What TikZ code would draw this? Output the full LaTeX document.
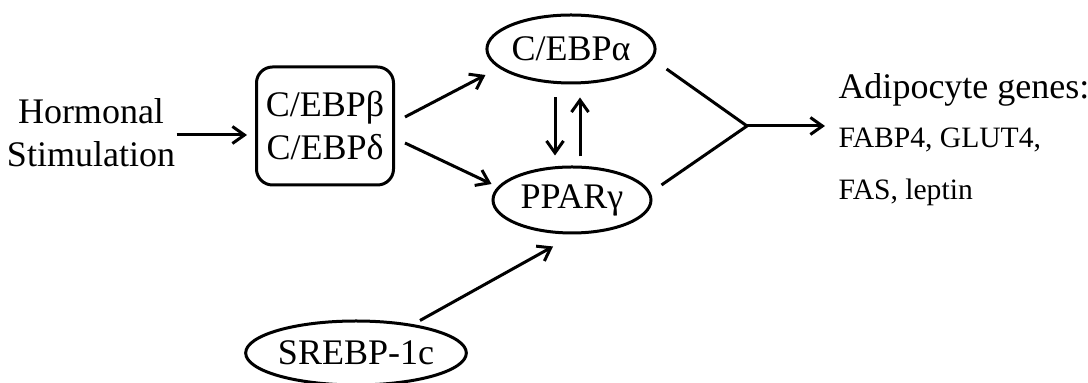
\documentclass[tikz,border=0pt]{standalone}
\usepackage{fontspec}
\setmainfont{Liberation Serif}
\usetikzlibrary{shapes.geometric,arrows.meta}

\begin{document}
\begin{tikzpicture}[x=0.5pt,y=-0.5pt,line width=1.5pt,
		big/.style={font=\fontsize{18}{21.5}\selectfont},
		small/.style={font=\fontsize{14.8}{17}\selectfont},
		oval/.style={ellipse,draw,big,inner sep=0pt},
		arr/.style={-{Straight Barb[length=6pt,width=8.5pt,line width=1.5pt]}}]
		\useasboundingbox (0,0) rectangle (1088,383);
		\node [big,align=center,inner sep=0pt] (hs) at (91,133) {Hormonal\\Stimulation};
		\node [draw,rounded corners=8pt,big,align=center,minimum width=68.5pt,minimum height=59pt] (cebpbd) at (325,126) {C/EBPβ\\C/EBPδ};
		\node [oval,minimum width=78.5pt,minimum height=34pt] (alpha) at (571,49) {C/EBPα};
		\node [oval,minimum width=79pt,minimum height=33pt] (gamma) at (572,200) {PPARγ};
		\node [oval,minimum width=77pt,minimum height=32pt] (srebp) at (356,353) {SREBP-1c};
		\node [big,anchor=base west,inner sep=0pt] (adipo) at (837,99) {Adipocyte genes:};
		\node [small,anchor=base west,inner sep=0pt] (fabp) at (837,148) {FABP4, GLUT4,};
		\node [small,anchor=base west,inner sep=0pt] (fas) at (837,200) {FAS, leptin};
		\coordinate (jn) at (747,126);
		\draw[arr] ([shift={(0,2)}]hs.east) -- ([shift={(-8,9)}]cebpbd.west);
		\draw[arr] ([shift={(10,-9)}]cebpbd.east) -- ([shift={(0,26)}]alpha.west);
		\draw[arr] ([shift={(10,17)}]cebpbd.east) -- ([shift={(0,-16)}]gamma.west);
		\draw[arr] ([shift={(-16,13)}]alpha.south) -- ([shift={(-17,-10)}]gamma.north);
		\draw[arr] ([shift={(8,-9)}]gamma.north) -- ([shift={(9,13)}]alpha.south);
		\draw ([shift={(10,20)}]alpha.east) -- (jn) -- ([shift={(9,-15)}]gamma.east);
		\draw[arr] (jn) -- ([shift={(-12,-22)}]fabp.base west);
		\draw[arr] ([shift={(64,1)}]srebp.north) -- ([shift={(-19,12)}]gamma.south);
\end{tikzpicture}
\end{document}
